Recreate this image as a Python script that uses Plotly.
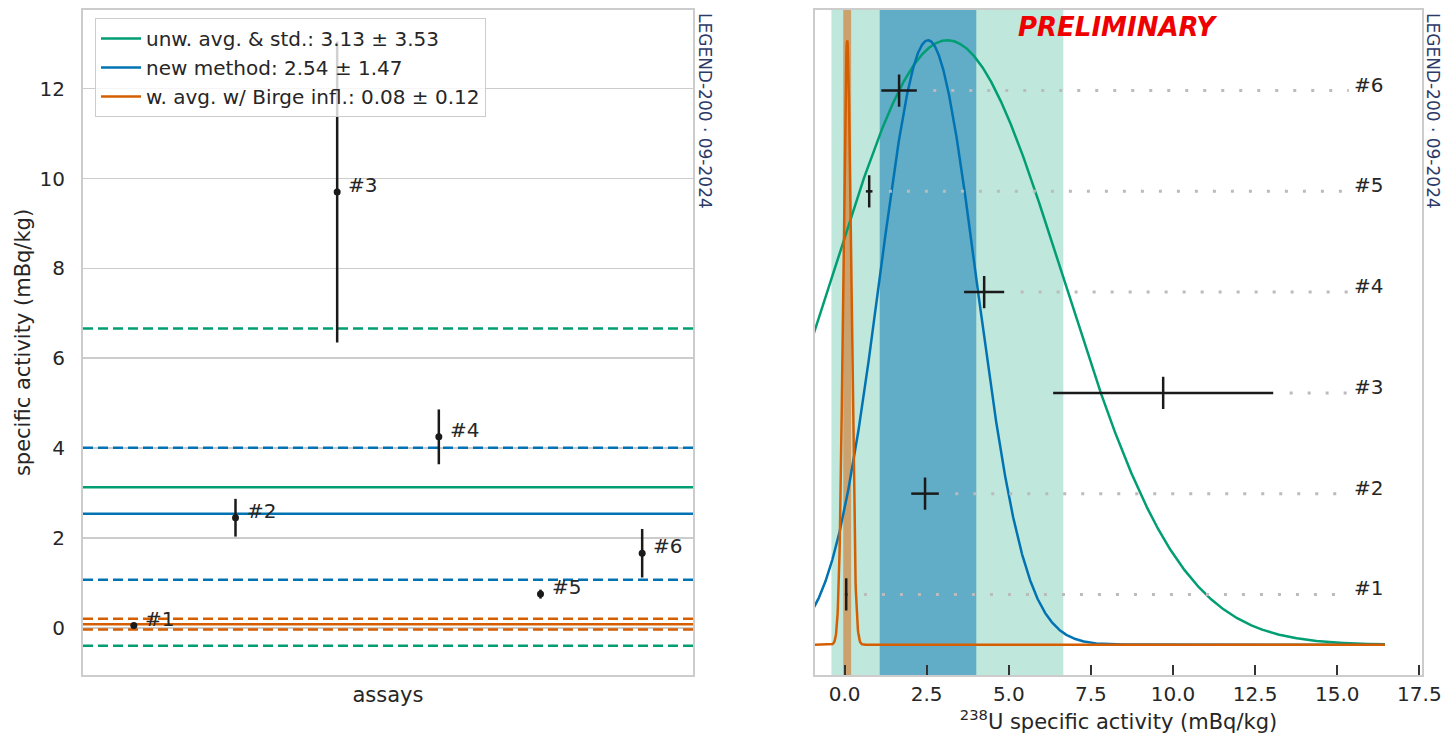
import numpy as np
import plotly.graph_objects as go

# ---------------- data ----------------
assay_labels = ["#1", "#2", "#3", "#4", "#5", "#6"]
assay_values = [0.05, 2.45, 9.70, 4.25, 0.75, 1.66]
assay_errors = [0.04, 0.42, 3.35, 0.61, 0.10, 0.54]

stat_names = ["unw. avg. & std.", "new method", "w. avg. w/ Birge infl."]
stat_means = [3.13, 2.54, 0.08]
stat_stds = [3.53, 1.47, 0.12]
stat_colors = ["#029e73", "#0173b2", "#d55e00"]
band_fill = ["rgba(2,158,115,0.25)", "rgba(1,115,178,0.5)", "rgba(213,94,0,0.5)"]

x_ticks_right = [0.0, 2.5, 5.0, 7.5, 10.0, 12.5, 15.0, 17.5]
y_ticks_left = [0, 2, 4, 6, 8, 10, 12]

# the page body margin is removed by a post script, so the figure sits at (0, 0)
W, H = 1443, 735
FONT = "DejaVu Sans"
TXT = "#262626"
GRID = "#cccccc"


def px(x):
    return x / W


def py(y):
    return 1 - y / H


fig = go.Figure()

# ---------- left panel ----------
xl = [-0.5, 5.5]
for name, m, s, c in zip(stat_names, stat_means, stat_stds, stat_colors):
    fig.add_trace(go.Scatter(x=xl, y=[m, m], mode="lines", line=dict(color=c, width=2.5),
                             name=f"{name}: {m:.2f} ± {s:.2f}", xaxis="x", yaxis="y",
                             showlegend=True, hoverinfo="skip"))
    for sign in (-1, 1):
        v = m + sign * s
        fig.add_trace(go.Scatter(x=xl, y=[v, v], mode="lines",
                                 line=dict(color=c, width=2.5, dash="10px,5px"),
                                 xaxis="x", yaxis="y", showlegend=False, hoverinfo="skip"))

idx = list(range(len(assay_values)))
fig.add_trace(go.Scatter(x=idx, y=assay_values, mode="markers",
                         marker=dict(color="#1a1a1a", size=7),
                         error_y=dict(type="data", array=assay_errors, color="#1a1a1a",
                                      thickness=2.5, width=0),
                         xaxis="x", yaxis="y", showlegend=False))

annotations = []
for i, (lab, v) in enumerate(zip(assay_labels, assay_values)):
    annotations.append(dict(x=i, y=v, xref="x", yref="y", text=lab, showarrow=False,
                            xanchor="left", xshift=9, yshift=7,
                            font=dict(family=FONT, size=20, color=TXT)))

# ---------- right panel ----------
n = len(assay_values)
rows = [(i + 0.5) / n for i in range(n)]

ydom = [py(675), py(10)]

# bands
for m, s, f in zip(stat_means, stat_stds, band_fill):
    fig.add_shape(type="rect", xref="x2", yref="paper", x0=m - s, x1=m + s,
                  y0=ydom[0], y1=ydom[1], fillcolor=f,
                  line=dict(width=0), layer="below")

xs = np.linspace(-1.0, 16.45, 2000)
for m, s, c in zip(stat_means, stat_stds, stat_colors):
    ys = np.exp(-0.5 * ((xs - m) / s) ** 2)
    fig.add_trace(go.Scatter(x=xs, y=ys, mode="lines", line=dict(color=c, width=2.5),
                             xaxis="x2", yaxis="y2", showlegend=False, hoverinfo="skip"))

label_x = 15.45
for lab, v, e, r in zip(assay_labels, assay_values, assay_errors, rows):
    fig.add_trace(go.Scatter(x=[v + e + 0.5, label_x - 0.1], y=[r, r], mode="lines",
                             line=dict(color="#bbbbbb", width=3, dash="3px,15px"),
                             xaxis="x2", yaxis="y2", showlegend=False, hoverinfo="skip"))
    annotations.append(dict(x=label_x, y=r, xref="x2", yref="y2", text=lab, showarrow=False,
                            xanchor="left", yshift=6,
                            font=dict(family=FONT, size=20, color=TXT)))

fig.add_trace(go.Scatter(x=assay_values, y=rows, mode="markers",
                         marker=dict(symbol="line-ns", size=23, color="#1a1a1a",
                                     line=dict(color="#1a1a1a", width=2.5)),
                         error_x=dict(type="data", array=assay_errors, color="#1a1a1a",
                                      thickness=2.5, width=0),
                         xaxis="x2", yaxis="y2", showlegend=False))

# texts
annotations.append(dict(x=px(1118), y=py(27), xref="paper", yref="paper",
                        text="<b><i>PRELIMINARY</i></b>", showarrow=False,
                        xanchor="center", yanchor="middle",
                        font=dict(family=FONT, size=26, color="#ee0000")))
for xp in (705, 1433):
    annotations.append(dict(x=px(xp), y=py(11), xref="paper", yref="paper",
                            text="LEGEND-200 · 09-2024", textangle=90, showarrow=False,
                            xanchor="center", yanchor="top",
                            font=dict(family=FONT, size=17, color="#2b3a67")))

fig.update_layout(
    width=W, height=H, margin=dict(l=0, r=0, t=0, b=0, autoexpand=False),
    paper_bgcolor="white", plot_bgcolor="white",
    font=dict(family=FONT, color=TXT, size=20),
    hovermode=False,
    xaxis=dict(domain=[px(83), px(693)], range=xl, showticklabels=False, ticks="",
               showgrid=False, zeroline=False, showline=True, linecolor=GRID, linewidth=2,
               mirror=True, automargin=False,
               title=dict(text="assays", font=dict(size=21), standoff=11)),
    yaxis=dict(domain=ydom, range=[-1.05, 13.75], tickvals=y_ticks_left,
               showgrid=True, gridcolor=GRID, gridwidth=1.5, zeroline=False,
               showline=True, linecolor=GRID, linewidth=2, mirror=True, ticks="",
               tickfont=dict(size=20), ticklabelstandoff=12, automargin=False,
               title=dict(text="specific activity (mBq/kg)", font=dict(size=21), standoff=3)),
    xaxis2=dict(domain=[px(815), px(1422)], range=[-0.9, 17.58], tickvals=x_ticks_right,
                ticktext=[f"{t:.1f}" for t in x_ticks_right], anchor="y2",
                showgrid=False, zeroline=False, showline=True, linecolor=GRID, linewidth=2,
                mirror=True, ticks="inside", ticklen=10, tickwidth=2, tickcolor="#333333",
                tickfont=dict(size=20), automargin=False,
                title=dict(text="<sup>238</sup>U specific activity (mBq/kg)",
                           font=dict(size=21), standoff=4)),
    yaxis2=dict(domain=ydom, range=[-0.05, 1.05], anchor="x2", showticklabels=False,
                showgrid=False, zeroline=False, showline=True, linecolor=GRID, linewidth=2,
                mirror=True, ticks="", automargin=False),
    legend=dict(x=px(95), y=py(18), xanchor="left", yanchor="top",
                bgcolor="rgba(255,255,255,0.8)", bordercolor=GRID, borderwidth=1,
                font=dict(size=20, color=TXT), itemwidth=40),
    annotations=annotations,
)

fig.write_html("out.html", config={"displayModeBar": False, "staticPlot": True},
               post_script="document.body.style.margin='0';document.body.style.overflow='hidden';")
